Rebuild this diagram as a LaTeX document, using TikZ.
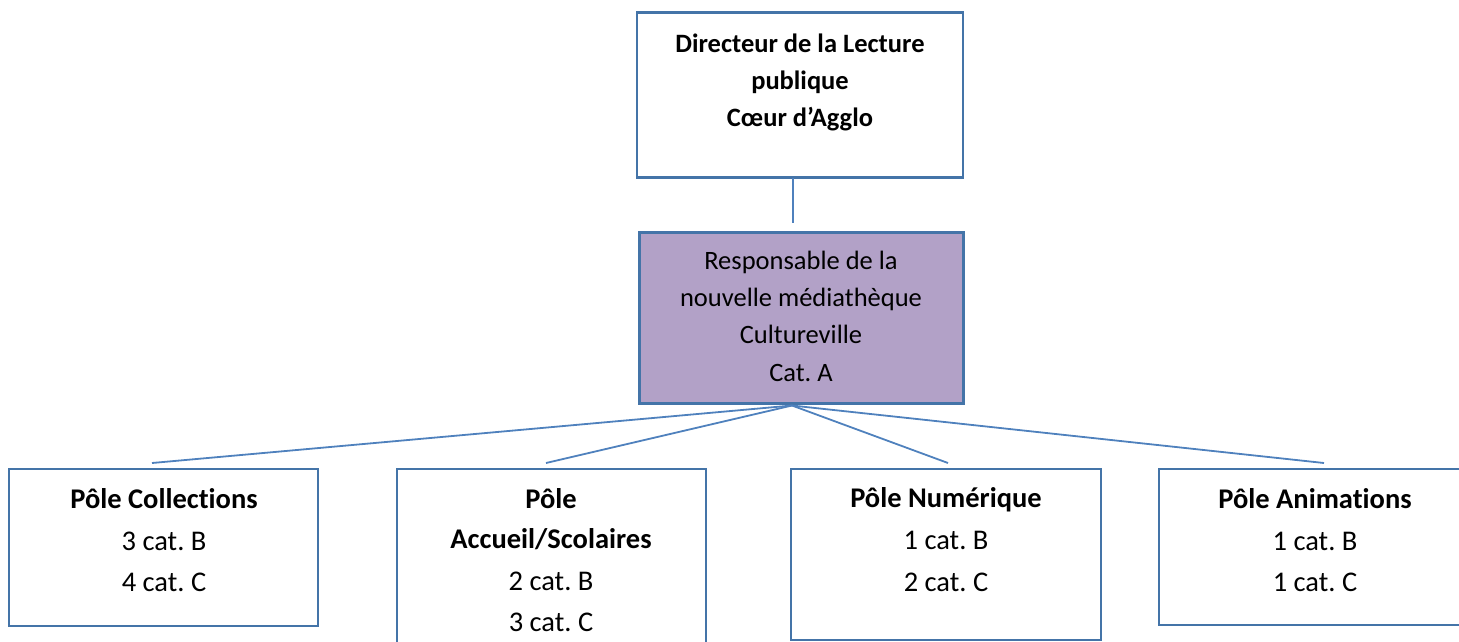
\documentclass[tikz,border=0pt]{standalone}
\usepackage{fontspec}
\setmainfont{Carlito}[Ligatures=NoCommon]
\frenchspacing
\definecolor{bordblue}{RGB}{68,116,168}
\definecolor{linkblue}{RGB}{79,129,189}
\definecolor{purplefill}{RGB}{178,161,199}
\begin{document}
\begin{tikzpicture}[x=1pt,y=-1pt,
  box/.style={draw=bordblue,line width=2.5pt,fill=white,inner sep=0pt,outer sep=0pt},
  respbox/.style={box,fill=purplefill,line width=3pt},
  link/.style={draw=linkblue,line width=1.8pt},
  toptxt/.style={anchor=base,inner sep=0pt,font=\fontsize{26.5}{37}\selectfont\bfseries},
  midtxt/.style={anchor=base,inner sep=0pt,font=\fontsize{26.5}{37}\selectfont},
  hdtxt/.style={anchor=base,inner sep=0pt,font=\fontsize{28.5}{41}\selectfont\bfseries},
  cattxt/.style={anchor=base,inner sep=0pt,font=\fontsize{28.5}{41}\selectfont}]
\useasboundingbox (0,0) rectangle (1459,641);
% boxes
\node[box,minimum width=326pt,minimum height=165pt] (dir) at (800,95) {};
\node[respbox,minimum width=324pt,minimum height=171pt] (resp) at (801,317.5) {};
\node[box,minimum width=309pt,minimum height=157pt] (c1) at (163.5,547.5) {};
\node[box,minimum width=309pt,minimum height=191pt] (c2) at (551.5,564.5) {};
\node[box,minimum width=310pt,minimum height=171pt] (c3) at (946,554.5) {};
\node[box,minimum width=310pt,minimum height=156pt] (c4) at (1314,547) {};
% texts
\node[toptxt] (d1) at (800,52) {Directeur de la Lecture};
\node[toptxt] (d2) at (800,89) {publique};
\node[toptxt] (d3) at (800,126) {Cœur d’Agglo};
\node[midtxt] (r1) at (801,269) {Responsable de la};
\node[midtxt] (r2) at (801,306) {nouvelle médiathèque};
\node[midtxt] (r3) at (801,343) {Cultureville};
\node[midtxt] (r4) at (801,381) {Cat. A};
\node[hdtxt] (a1) at (164,508) {Pôle Collections};
\node[cattxt] (a2) at (164,550) {3 cat. B};
\node[cattxt] (a3) at (164,591) {4 cat. C};
\node[hdtxt] (b1) at (551,508) {Pôle};
\node[hdtxt] (b2) at (551,548) {Accueil/Scolaires};
\node[cattxt] (b3) at (551,590) {2 cat. B};
\node[cattxt] (b4) at (551,631) {3 cat. C};
\node[hdtxt] (e1) at (946,507) {Pôle Numérique};
\node[cattxt] (e2) at (946,549) {1 cat. B};
\node[cattxt] (e3) at (946,591) {2 cat. C};
\node[hdtxt] (f1) at (1315,508) {Pôle Animations};
\node[cattxt] (f2) at (1315,550) {1 cat. B};
\node[cattxt] (f3) at (1315,591) {1 cat. C};
% connectors
\draw[link] ([xshift=-7pt]dir.south) -- ([xshift=-8pt,yshift=9pt]resp.north);
\coordinate (apex) at ([xshift=-9pt,yshift=-2.5pt]resp.south);
\draw[link] (apex) -- ([xshift=-11.5pt,yshift=6pt]c1.north);
\draw[link] (apex) -- ([xshift=-5.5pt,yshift=6pt]c2.north);
\draw[link] (apex) -- ([xshift=2pt,yshift=6pt]c3.north);
\draw[link] (apex) -- ([xshift=10pt,yshift=6pt]c4.north);
\end{tikzpicture}
\end{document}
